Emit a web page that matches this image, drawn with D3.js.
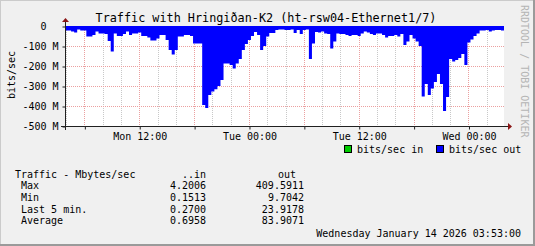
<!DOCTYPE html>
<html>
<head>
<meta charset="utf-8">
<script src="https://cdn.jsdelivr.net/npm/d3@7"></script>
<style>
  body { margin: 0; background: #f0f0f0; }
  svg { display: block; }
  text { font-family: "DejaVu Sans Mono", monospace; }
</style>
</head>
<body>
<svg id="chart"></svg>
<script>
const title = "Traffic with Hringiðan-K2 (ht-rsw04-Ethernet1/7)";
const startTime = Date.UTC(2026, 0, 12, 3, 53);
const endTime = Date.UTC(2026, 0, 14, 3, 53);
const stepMinutes = 20;

// bits/sec out, millions, one value per 20 min step (drawn below zero)
const outValues = [
    23, 23, 28, 33, 17, 23, 23, 53, 53, 45,
    28, 37, 37, 40, 75, 128, 37, 50, 50, 40,
    28, 45, 37, 37, 33, 50, 50, 57, 73, 73,
    62, 45, 45, 70, 120, 142, 120, 53, 53, 45,
    45, 50, 87, 87, 87, 395, 410, 345, 328, 316,
    300, 270, 187, 187, 195, 212, 187, 165, 120, 90,
    70, 50, 30, 45, 120, 100, 53, 35, 35, 20,
    18, 17, 20, 20, 17, 35, 20, 40, 20, 17,
    165, 87, 30, 33, 28, 37, 40, 112, 78, 37,
    40, 40, 45, 50, 45, 45, 50, 37, 28, 33,
    40, 45, 37, 37, 45, 57, 50, 50, 45, 53,
    40, 95, 78, 45, 62, 78, 100, 353, 290, 345,
    312, 280, 240, 290, 425, 355, 165, 178, 170, 160,
    140, 195, 83, 67, 50, 37, 23, 23, 20, 28,
    22, 20, 20, 23
];

const yTicks = [0, -100, -200, -300, -400, -500];
const legendNames = ["bits/sec in", "bits/sec out"];
const legendColors = ["#00cc00", "#0000ff"];
const statHeader = ["Traffic - Mbytes/sec", "..in", "out"];
const statLabels = ["Max", "Min", "Last 5 min.", "Average"];
const statIn = ["4.2006", "0.1513", "0.2700", "0.6958"];
const statOut = ["409.5911", "9.7042", "23.9178", "83.9071"];
const stamp = "Wednesday January 14 2026 03:53:00";

const W = 535, H = 246;
const plotL = 65, plotR = 504, plotT = 26, plotB = 126;

const svg = d3.select("#chart").attr("width", W).attr("height", H);

// frame
svg.append("rect").attr("width", W).attr("height", H).attr("fill", "#f0f0f0");
svg.append("path").attr("d", `M0,${H}V0H${W}`).attr("fill", "none")
    .attr("stroke", "#cbcbcb").attr("stroke-width", 2);
svg.append("path").attr("d", `M0,${H - 1}H${W - 1}V0`).attr("fill", "none")
    .attr("stroke", "#9a9a9a").attr("stroke-width", 2);

const x = d3.scaleUtc().domain([startTime, endTime]).range([plotL, plotR]);
const y = d3.scaleLinear().domain([-500, 0]).range([plotB, plotT]);

svg.append("rect").attr("x", plotL).attr("y", plotT)
    .attr("width", plotR - plotL).attr("height", plotB - plotT).attr("fill", "#fff");

// grid
const minor = x.ticks(d3.utcHour.every(2)).filter(d => d.getUTCHours() % 6 !== 0);
const major = x.ticks(d3.utcHour.every(6));
svg.append("g").selectAll("line").data(minor).join("line")
    .attr("x1", d => Math.round(x(d)) + 0.5).attr("x2", d => Math.round(x(d)) + 0.5)
    .attr("y1", plotT).attr("y2", plotB)
    .attr("stroke", "#c8c8c8").attr("stroke-dasharray", "1,1");
svg.append("g").selectAll("line").data(major).join("line")
    .attr("x1", d => Math.round(x(d)) + 0.5).attr("x2", d => Math.round(x(d)) + 0.5)
    .attr("y1", plotT).attr("y2", plotB)
    .attr("stroke", "#eba0a0").attr("stroke-dasharray", "1,1");
svg.append("g").selectAll("line").data(yTicks).join("line")
    .attr("x1", plotL).attr("x2", plotR)
    .attr("y1", d => Math.round(y(d)) + 0.5).attr("y2", d => Math.round(y(d)) + 0.5)
    .attr("stroke", "#eba0a0").attr("stroke-dasharray", "1,1");

const data = outValues.map((v, i) => ({ t: startTime + i * stepMinutes * 60000, v: -v }));
data.push({ t: endTime, v: -outValues[outValues.length - 1] });

svg.append("path")
    .datum(data)
    .attr("fill", "#0000ff")
    .attr("d", d3.area().curve(d3.curveStepAfter)
        .x(d => x(d.t)).y0(y(0)).y1(d => y(d.v)));

// axes
const yAxis = d3.axisLeft(y).tickValues(yTicks).tickSize(3).tickPadding(4)
    .tickFormat(d => d === 0 ? "0  " : `${d} M`);
const yg = svg.append("g").attr("transform", `translate(${plotL + 0.5},0.5)`).call(yAxis);
yg.select(".domain").remove();
yg.selectAll("text").attr("xml:space", "preserve")
    .style("font-size", "10px").attr("fill", "#000");

const labelTicks = x.ticks(d3.utcHour.every(12));
const xAxis = d3.axisBottom(x).tickValues(major).tickSize(3).tickPadding(3)
    .tickFormat(d => labelTicks.some(t => +t === +d) ? d3.utcFormat("%a %H:%M")(d) : "");
const xg = svg.append("g").attr("transform", `translate(0.5,${plotB + 0.5})`).call(xAxis);
xg.select(".domain").remove();
xg.selectAll("text").style("font-size", "10px").attr("fill", "#000");
svg.selectAll(".tick line").attr("stroke", "#202020");

svg.append("line").attr("x1", plotL - 4).attr("x2", plotR + 4)
    .attr("y1", plotB + 0.5).attr("y2", plotB + 0.5).attr("stroke", "#202020");
svg.append("line").attr("x1", plotL + 0.5).attr("x2", plotL + 0.5)
    .attr("y1", plotB + 4).attr("y2", plotT - 4).attr("stroke", "#202020");
svg.append("path").attr("fill", "#8b1515")
    .attr("d", `M${plotR + 4},${plotB - 3}L${plotR + 8},${plotB + 0.5}L${plotR + 4},${plotB + 4}Z`);
svg.append("path").attr("fill", "#8b1515")
    .attr("d", `M${plotL - 3},${plotT - 4}L${plotL + 0.5},${plotT - 8}L${plotL + 4},${plotT - 4}Z`);

// titles
svg.append("text").attr("x", 266).attr("y", 21.5).attr("text-anchor", "middle")
    .style("font-size", "11.8px").text(title);
svg.append("text").attr("transform", "translate(15,75) rotate(-90)")
    .attr("text-anchor", "middle").style("font-size", "10px").text("bits/sec");
svg.append("text").attr("transform", "translate(524,5) rotate(90)")
    .attr("dominant-baseline", "central").attr("fill", "#b4b4b4")
    .style("font-size", "10px").text("RRDTOOL / TOBI OETIKER");

// legend
const legendX = [344, 436];
legendNames.forEach((name, i) => {
    svg.append("rect").attr("x", legendX[i] + 0.5).attr("y", 145.5)
        .attr("width", 7).attr("height", 7)
        .attr("fill", legendColors[i]).attr("stroke", "#000");
    svg.append("text").attr("x", legendX[i] + 13).attr("y", 152.5)
        .style("font-size", "10px").text(name);
});

// stats table
svg.append("text").attr("x", 15).attr("y", 177.5).style("font-size", "10px").text(statHeader[0]);
svg.append("text").attr("x", 206).attr("y", 177.5).attr("text-anchor", "end")
    .style("font-size", "10px").text(statHeader[1]);
svg.append("text").attr("x", 296).attr("y", 177.5).attr("text-anchor", "end")
    .style("font-size", "10px").text(statHeader[2]);
statLabels.forEach((label, i) => {
    const rowY = 189 + i * 11.8;
    svg.append("text").attr("x", 21).attr("y", rowY).style("font-size", "10px").text(label);
    svg.append("text").attr("x", 206).attr("y", rowY).attr("text-anchor", "end")
        .style("font-size", "10px").text(statIn[i]);
    svg.append("text").attr("x", 304).attr("y", rowY).attr("text-anchor", "end")
        .style("font-size", "10px").text(statOut[i]);
});
svg.append("text").attr("x", 521).attr("y", 236.5).attr("text-anchor", "end")
    .style("font-size", "10px").text(stamp);
</script>
</body>
</html>
